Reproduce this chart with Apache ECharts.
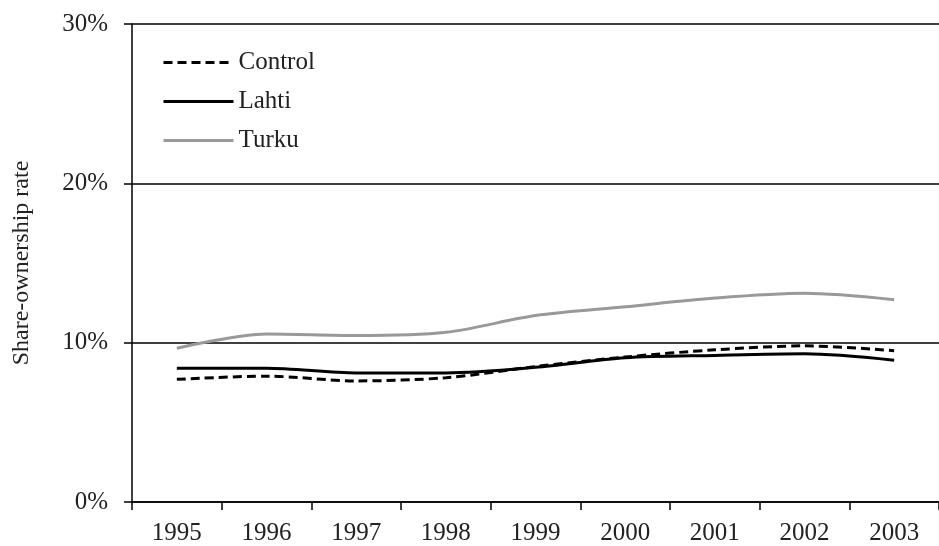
<!DOCTYPE html>
<html>
<head>
<meta charset="utf-8">
<script src="https://cdn.jsdelivr.net/npm/echarts@6/dist/echarts.min.js"></script>
<style>
  html, body { margin: 0; padding: 0; background: #fff; }
  #chart { width: 939px; height: 546px; }
</style>
</head>
<body>
<div id="chart"></div>
<script>
const years = ["1995", "1996", "1997", "1998", "1999", "2000", "2001", "2002", "2003"];
const control = [7.7, 7.9, 7.6, 7.8, 8.5, 9.1, 9.55, 9.8, 9.5];
const lahti = [8.4, 8.4, 8.1, 8.1, 8.45, 9.05, 9.2, 9.3, 8.9];
const turku = [9.65, 10.55, 10.45, 10.65, 11.7, 12.25, 12.8, 13.1, 12.7];

const serif = "Liberation Serif";

const chart = echarts.init(document.getElementById("chart"));

chart.setOption({
  animation: false,
  grid: { left: 132, top: 24, width: 817, height: 479 },
  legend: {
    orient: "vertical",
    left: 157,
    top: 45,
    itemWidth: 70,
    itemHeight: 20,
    itemGap: 14,
    itemStyle: { opacity: 0 },
    lineStyle: { width: 3 },
    textStyle: { fontFamily: serif, fontSize: 25, color: "#222" },
    data: ["Control", "Lahti", "Turku"]
  },
  xAxis: {
    type: "category",
    data: years,
    boundaryGap: true,
    axisLine: { lineStyle: { color: "#000", width: 1.5 } },
    axisTick: { show: true, length: 8, alignWithLabel: false, lineStyle: { color: "#000", width: 1.5 } },
    axisLabel: { margin: 19, fontFamily: serif, fontSize: 25, color: "#222" }
  },
  yAxis: {
    type: "value",
    min: 0,
    max: 30,
    interval: 10,
    name: "Share-ownership rate",
    nameLocation: "middle",
    nameGap: 98,
    nameRotate: 90,
    nameTextStyle: { fontFamily: serif, fontSize: 24, color: "#222" },
    axisLine: { show: true, lineStyle: { color: "#000", width: 1.5 } },
    axisTick: { show: true, length: 8, lineStyle: { color: "#000", width: 1.5 } },
    axisLabel: { margin: 24, formatter: "{value}%", fontFamily: serif, fontSize: 25, color: "#222" },
    splitLine: { show: true, lineStyle: { color: "#000", width: 1.5 } }
  },
  series: [
    {
      name: "Control",
      type: "line",
      data: control,
      smooth: 0.3,
      symbol: "none",
      lineStyle: { color: "#000", width: 3, type: [9, 5] },
      itemStyle: { color: "#000" }
    },
    {
      name: "Lahti",
      type: "line",
      data: lahti,
      smooth: 0.3,
      symbol: "none",
      lineStyle: { color: "#000", width: 3 },
      itemStyle: { color: "#000" }
    },
    {
      name: "Turku",
      type: "line",
      data: turku,
      smooth: 0.3,
      symbol: "none",
      lineStyle: { color: "#999", width: 3 },
      itemStyle: { color: "#999" }
    }
  ]
});
</script>
</body>
</html>
